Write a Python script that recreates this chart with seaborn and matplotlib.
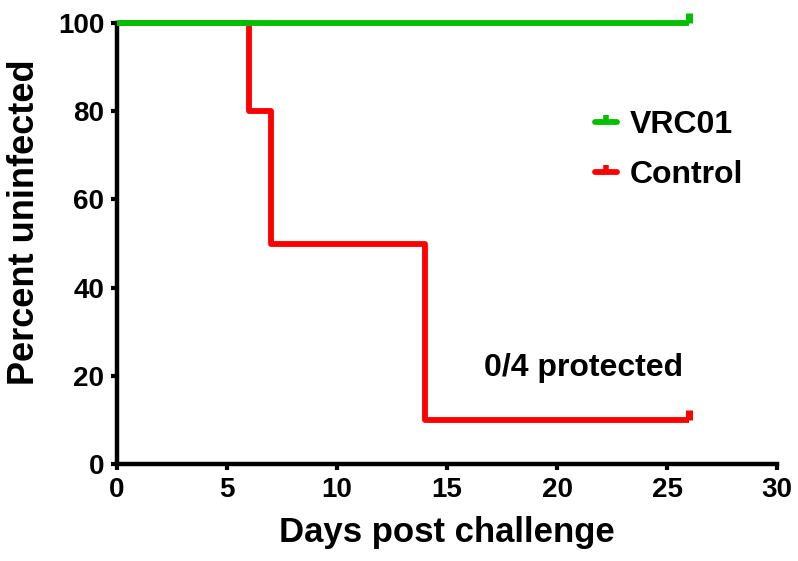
import pandas as pd
import numpy as np
import matplotlib
matplotlib.use('Agg')
import matplotlib.pyplot as plt
from matplotlib.lines import Line2D
import seaborn as sns

# Kaplan-Meier style data
vrc01_days = [0, 26]
vrc01_pct = [100, 100]
control_days = [0, 6, 7, 14, 26]
control_pct = [100, 80, 50, 10, 10]

df = pd.DataFrame({
    'day': vrc01_days + control_days,
    'pct': vrc01_pct + control_pct,
    'group': ['VRC01'] * len(vrc01_days) + ['Control'] * len(control_days),
})
palette = {'VRC01': '#00c000', 'Control': '#ff0000'}

sns.set_style('ticks')
plt.rcParams['font.family'] = ['Liberation Sans', 'DejaVu Sans']
plt.rcParams['font.weight'] = 'bold'
plt.rcParams['text.color'] = 'black'
plt.rcParams['axes.labelcolor'] = 'black'
plt.rcParams['xtick.color'] = 'black'
plt.rcParams['ytick.color'] = 'black'
plt.rcParams['axes.edgecolor'] = 'black'

fig = plt.figure(figsize=(7.98, 5.61), dpi=100)
ax = fig.add_axes([0.1466, 0.1729, 0.8271, 0.7861])

sns.lineplot(data=df, x='day', y='pct', hue='group', palette=palette,
             hue_order=['Control', 'VRC01'],
             drawstyle='steps-post', estimator=None, ax=ax, legend=False)
for line in ax.lines:
    line.set_linewidth(4.2)
    line.set_solid_capstyle('butt')
    line.set_zorder(3)
    line.set_clip_on(False)

# censored ticks (upward) at the end
tick = [(0, 0), (0, 1)]
for g, d, p in [('VRC01', vrc01_days, vrc01_pct), ('Control', control_days, control_pct)]:
    ax.plot(d[-1], p[-1], marker=tick, markersize=14, markeredgewidth=5,
            color=palette[g], zorder=4, clip_on=False)

# legend
handles = [Line2D([0], [0], color=palette[g], linewidth=4.2, marker=tick, markersize=10,
                  markeredgewidth=4) for g in ['VRC01', 'Control']]
ax.legend(handles, ['VRC01', 'Control'], loc='upper left', bbox_to_anchor=(0.68, 0.868),
          frameon=False, handlelength=0.7, handletextpad=0.4,
          labelspacing=0.62, prop={'size': 23, 'weight': 'bold'})

ax.text(21.2, 21.8, '0/4 protected', fontsize=23, fontweight='bold',
        ha='center', va='center')

ax.set_xlim(0, 30)
ax.set_ylim(0, 100)
ax.set_xticks([0, 5, 10, 15, 20, 25, 30])
ax.set_yticks([0, 20, 40, 60, 80, 100])
ax.tick_params(labelsize=20, width=3, length=4, pad=5, direction='out')
for lab in ax.get_xticklabels() + ax.get_yticklabels():
    lab.set_fontweight('bold')
sns.despine(ax=ax)
for s in ['left', 'bottom']:
    ax.spines[s].set_linewidth(3.2)
ax.set_xlabel('Days post challenge', fontsize=25, fontweight='bold', labelpad=10)
ax.set_ylabel('Percent uninfected', fontsize=26, fontweight='bold')
ax.yaxis.set_label_coords(-0.114, 0.549)

fig.savefig('out.png', dpi=100)
